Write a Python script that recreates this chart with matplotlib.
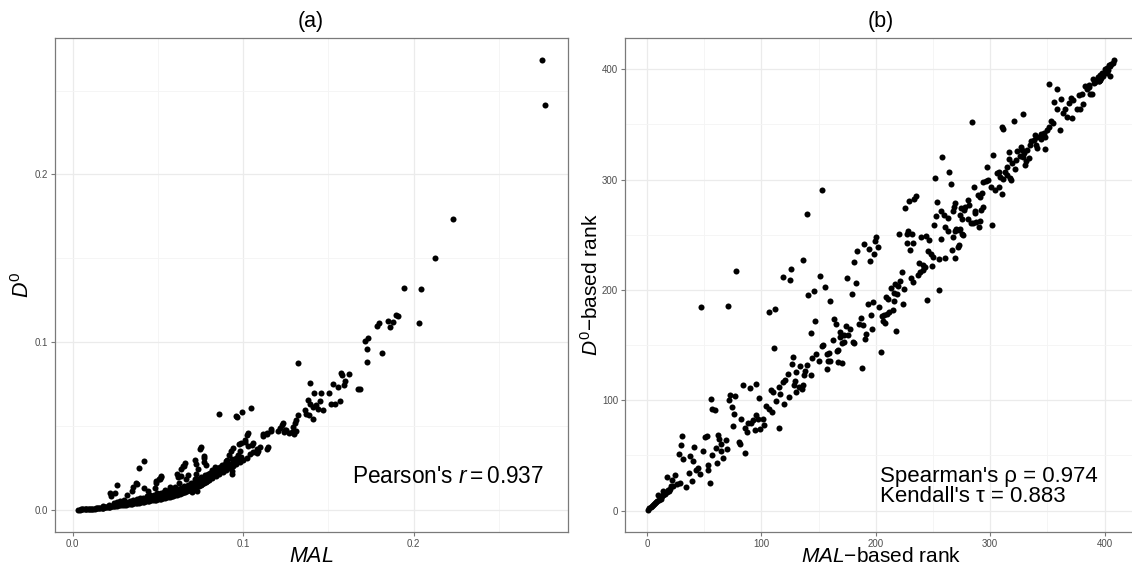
import matplotlib
matplotlib.use("Agg")
import matplotlib.pyplot as plt
import numpy as np

plt.rcParams['font.family'] = ['Liberation Sans', 'DejaVu Sans']
plt.rcParams['mathtext.fontset'] = 'custom'
plt.rcParams['mathtext.rm'] = 'Liberation Sans'
plt.rcParams['mathtext.it'] = 'Liberation Sans:italic'
plt.rcParams['mathtext.bf'] = 'Liberation Sans:bold'

# ---------------- Panel (a): MAL vs D0 ----------------
mal_a = [
    0.003, 0.004, 0.005, 0.0055, 0.006, 0.007, 0.0075, 0.008, 0.009, 0.0095, 0.010, 0.011, 0.0115, 0.012,
    0.013, 0.0135, 0.014, 0.015, 0.0155, 0.016, 0.017, 0.0175, 0.018, 0.019, 0.0195, 0.020, 0.021, 0.0215,
    0.022, 0.023, 0.0235, 0.024, 0.025, 0.0255, 0.026, 0.027, 0.0275, 0.028, 0.029, 0.0295, 0.030,
    0.018, 0.021, 0.024, 0.026, 0.028, 0.030, 0.022, 0.0246, 0.026, 0.0225,
    0.031, 0.032, 0.033, 0.034, 0.035, 0.036, 0.037, 0.038, 0.039, 0.040, 0.041, 0.042, 0.043, 0.044, 0.045,
    0.046, 0.047, 0.048, 0.049, 0.050, 0.051, 0.052, 0.053, 0.054, 0.055, 0.056, 0.057, 0.058, 0.059, 0.060,
    0.0315, 0.0335, 0.0355, 0.0375, 0.0395, 0.0415, 0.0435, 0.0455, 0.0475, 0.0495, 0.0515, 0.0535, 0.0555,
    0.0575, 0.0595,
    0.0325, 0.0345, 0.0365, 0.0385, 0.0405, 0.0425, 0.0445, 0.0465, 0.0485, 0.0505, 0.0525, 0.0545, 0.0565,
    0.0585, 0.0605, 0.0625, 0.0645, 0.0665, 0.0685, 0.0705, 0.0725, 0.0745, 0.0765, 0.0785, 0.0805, 0.0825,
    0.0845, 0.0865, 0.0885, 0.0905, 0.0925, 0.0945, 0.0965, 0.0985,
    0.092, 0.094, 0.096, 0.098, 0.100, 0.102, 0.104, 0.106, 0.108, 0.110,
    0.0318, 0.0347, 0.0356, 0.0373, 0.0377, 0.039, 0.042, 0.0419, 0.0441, 0.0483, 0.0504, 0.0487, 0.0504,
    0.0517, 0.0512, 0.049, 0.052, 0.0542, 0.0568, 0.0602, 0.061, 0.0623, 0.0636, 0.0619, 0.0635, 0.0646,
    0.0654, 0.0661, 0.0665, 0.0678, 0.0699, 0.0729, 0.0716, 0.0725, 0.0733, 0.0725, 0.0717, 0.0744, 0.075,
    0.0771, 0.0768, 0.0772, 0.078, 0.0788, 0.0805, 0.0818, 0.0835, 0.0856, 0.0864, 0.0877, 0.0898, 0.0907,
    0.0919, 0.0928, 0.0936, 0.0936, 0.0935, 0.0958, 0.097, 0.0983, 0.0987, 0.1013, 0.103, 0.103, 0.1055,
    0.1085, 0.0939, 0.0978, 0.101, 0.1049, 0.1084, 0.1142, 0.1144,
    0.061, 0.062, 0.063, 0.064, 0.065, 0.066, 0.067, 0.068, 0.069, 0.070, 0.071, 0.072, 0.073, 0.074, 0.075,
    0.076, 0.077, 0.078, 0.079, 0.080, 0.082, 0.084, 0.086, 0.088, 0.090,
    0.0615, 0.0635, 0.0655, 0.0675, 0.0695, 0.0715, 0.0735, 0.0755, 0.0775, 0.0795, 0.0815, 0.0835, 0.0855,
    0.0875, 0.0895,
    0.086, 0.0958, 0.0966, 0.0992, 0.1047, 0.1025,
    0.1119, 0.114, 0.1165, 0.1119, 0.1138, 0.1166, 0.1205, 0.1228, 0.1240, 0.1251, 0.1216, 0.1233, 0.1246,
    0.1271, 0.1284, 0.1297, 0.1309, 0.1292, 0.1305, 0.1309, 0.1322, 0.1322, 0.1360, 0.1369, 0.1386, 0.1407,
    0.1407, 0.1381, 0.139, 0.1428, 0.1449, 0.1441, 0.147, 0.139, 0.1413, 0.1458, 0.1504, 0.1513, 0.1538,
    0.1568, 0.1525, 0.1555, 0.1574, 0.1581, 0.1597, 0.1593, 0.1621, 0.1674, 0.1686, 0.1712, 0.1733, 0.1725,
    0.1729, 0.1788, 0.1797, 0.1814, 0.1847, 0.186, 0.1877, 0.1898, 0.1909, 0.1945, 0.2032, 0.2042, 0.2123,
    0.2231, 0.2754, 0.2769,
]
d0_a = [
    0.0001, 0.0001, 0.0002, 0.0002, 0.0002, 0.0003, 0.0003, 0.0003, 0.0004, 0.0004, 0.0005, 0.0005, 0.0006, 0.0006,
    0.0007, 0.0008, 0.0008, 0.0009, 0.0010, 0.0010, 0.0011, 0.0013, 0.0012, 0.0014, 0.0016, 0.0015, 0.0017, 0.0019,
    0.0018, 0.0020, 0.0024, 0.0021, 0.0023, 0.0027, 0.0025, 0.0028, 0.0032, 0.0026, 0.0030, 0.0035, 0.0029,
    0.0025, 0.0030, 0.0040, 0.0045, 0.0050, 0.0060, 0.0099, 0.0099, 0.0148, 0.0082,
    0.0030, 0.0032, 0.0033, 0.0035, 0.0036, 0.0038, 0.0040, 0.0041, 0.0043, 0.0044, 0.0046, 0.0048, 0.0049, 0.0051, 0.0053,
    0.0055, 0.0056, 0.0058, 0.0060, 0.0062, 0.0064, 0.0066, 0.0068, 0.0071, 0.0073, 0.0075, 0.0078, 0.0080, 0.0083, 0.0086,
    0.0045, 0.0050, 0.0058, 0.0062, 0.0070, 0.0068, 0.0080, 0.0085, 0.0090, 0.0098, 0.0100, 0.0105, 0.0110,
    0.0120, 0.0115,
    0.0040, 0.0044, 0.0049, 0.0053, 0.0058, 0.0061, 0.0066, 0.0072, 0.0076, 0.0081, 0.0086, 0.0093, 0.0097,
    0.0104, 0.0110, 0.0118, 0.0124, 0.0135, 0.0142, 0.0150, 0.0162, 0.0172, 0.0180, 0.0192, 0.0205, 0.0214,
    0.0228, 0.0238, 0.0252, 0.0262, 0.0275, 0.0290, 0.0300, 0.0315,
    0.0248, 0.0260, 0.0272, 0.0285, 0.0298, 0.0310, 0.0330, 0.0345, 0.0360, 0.0375,
    0.0090, 0.0112, 0.0138, 0.0159, 0.0152, 0.0249, 0.0290, 0.0127, 0.0112, 0.0127, 0.0095, 0.0170, 0.0185,
    0.0198, 0.0185, 0.0160, 0.0200, 0.0116, 0.0133, 0.0138, 0.0211, 0.0159, 0.0202, 0.0193, 0.0241, 0.0261,
    0.0260, 0.0277, 0.0181, 0.0206, 0.0105, 0.0112, 0.0181, 0.0213, 0.0241, 0.0271, 0.0296, 0.0360, 0.0374,
    0.0320, 0.0308, 0.0284, 0.0267, 0.0202, 0.0219, 0.0237, 0.0254, 0.0237, 0.0254, 0.0267, 0.0288, 0.0299,
    0.0327, 0.0348, 0.0305, 0.0228, 0.0211, 0.0310, 0.0327, 0.0353, 0.0400, 0.0413, 0.0460, 0.0378, 0.0396,
    0.0353, 0.0368, 0.0390, 0.0404, 0.0384, 0.0336, 0.0360, 0.0374,
    0.0090, 0.0093, 0.0096, 0.0100, 0.0104, 0.0108, 0.0112, 0.0116, 0.0120, 0.0125, 0.0130, 0.0134, 0.0139, 0.0144, 0.0150,
    0.0155, 0.0160, 0.0166, 0.0171, 0.0177, 0.0188, 0.0199, 0.0211, 0.0224, 0.0236,
    0.0125, 0.0130, 0.0140, 0.0150, 0.0160, 0.0170, 0.0185, 0.0195, 0.0205, 0.0215, 0.0225, 0.0240, 0.0250,
    0.0262, 0.0275,
    0.0572, 0.0561, 0.0551, 0.0585, 0.0604, 0.0443,
    0.0454, 0.0460, 0.0482, 0.0439, 0.0451, 0.0467, 0.0471, 0.0503, 0.0463, 0.0475, 0.0486, 0.0520, 0.0477,
    0.0460, 0.0465, 0.0449, 0.0471, 0.0492, 0.0520, 0.0535, 0.0563, 0.0873, 0.0594, 0.0568, 0.0563, 0.0542,
    0.0615, 0.0654, 0.0632, 0.0622, 0.0649, 0.0600, 0.0594, 0.0753, 0.0697, 0.0697, 0.0697, 0.0628, 0.0628,
    0.0649, 0.0751, 0.0735, 0.0815, 0.0804, 0.0766, 0.0744, 0.0811, 0.0718, 0.0718, 0.1009, 0.1026, 0.0961,
    0.0880, 0.1095, 0.1112, 0.0933, 0.1127, 0.1092, 0.1120, 0.1163, 0.1153, 0.1320, 0.1114, 0.1314, 0.1503,
    0.1735, 0.2680, 0.2415,
]

# ---------------- Panel (b): rank vs rank ----------------
rank_mal = [
    1, 2, 3, 4, 5, 6, 7, 8, 9, 10, 11, 12, 13, 14, 15, 16, 17, 18, 19, 20, 21,
    9.6, 14, 17.5, 21.6, 24.8, 22.7, 25.7, 28.6, 30.9, 29.7, 28, 31.5, 33.8, 36.7, 37.9, 39, 40.8, 40, 42.6,
    44.6, 46, 49, 50.7, 52, 53, 55, 53, 55.7, 57, 59, 57, 60, 61, 62.4, 63, 64.7, 65, 66, 68.8, 70, 71.7,
    72.9, 74, 77, 75.8, 75, 80, 81, 85.7, 84, 89.8, 95.6, 82, 88.6, 87, 91, 92.7, 85.7, 94, 98, 95.6, 96.8,
    101, 98.5, 102, 104, 106.7, 109, 108, 109.7, 110.8, 115, 112.5, 116, 115.5, 118.4, 120.7, 123, 120, 124,
    128, 129.4, 130.6, 133, 135, 136.4, 127, 127.7, 130.6, 133.5, 138, 140, 137, 143.4, 144.6, 148, 149.9,
    152.8, 154, 157, 158, 157,
    152.8, 140, 106.7, 111.7, 119, 125.4, 125, 135.9, 140.8, 145.8, 151, 155.7, 159.8, 142.9, 147, 163.8, 165,
    162.7, 166, 167, 158.6, 160, 167, 170.8, 168.5, 169, 172, 173.8, 175.5, 177, 172, 170, 175, 179, 180.8,
    182.8, 183.7, 190, 194, 195, 198.8, 199, 200, 201.5, 179.6, 181, 185, 187, 189, 187.8, 191, 190.6, 192.7,
    197.7, 196.5, 196, 204.7, 203, 209, 211, 213, 215.7, 217, 219, 218.6, 216.3, 214.6, 211.6, 210, 207,
    205.2, 206.4, 207.6, 217.5, 222.7, 221, 224.5, 224, 231, 232.7, 236.8, 238.5, 241.4, 241, 243, 238, 246,
    248.4, 249.6, 249, 244.3, 254.8, 255.4, 260.6, 257, 246.6, 243.7, 239.6, 232.7, 227, 229.7, 226.8, 220.4,
    228, 231.5, 225.7, 228.6, 233.3, 234.7, 253.8, 256.7, 259.6, 252.5, 250.8, 263, 260.6,
    47.4, 70.5, 77.4,
    284.5, 258.2, 263.8, 265.5, 251.5, 310.2, 311.3, 320.7, 328.9, 351.6, 358.6, 355.7, 361.5, 358, 363.9,
    365.6, 366.8, 371.5, 368.5, 370.9, 372.6, 375.5, 378.4, 380.8, 377.9, 380.2, 383.1, 386, 384.3, 387.2,
    391.9, 394.8, 361, 355.1, 352.8, 349.3, 347.5, 351, 347, 348.1, 344.6, 344, 340.5, 338.8, 338.2, 339.9,
    341.1, 335.9, 334.7, 334.1, 331.8, 329.4, 327.7, 326.5, 330.6, 331.2, 328.9, 325.9, 323, 322.4, 321.3,
    318.9, 316.6, 316, 314.3, 313.1, 317.2, 318.3, 314.8, 307.3, 306.1, 308.4, 311.3, 310.2, 307.3, 302.6,
    297.3, 297.9, 296.2, 293.8, 300.3, 304.3, 301.4, 290.9, 289.2, 292.7, 285.7, 281, 281.6, 278.1, 276.9,
    274.6, 273.4, 275.2, 268.2, 269.3, 267.6, 286.3, 281, 282.8, 285.1, 287.4, 290.9, 289.8, 292.1, 293.8,
    286.8, 274, 272.3, 275.2, 276.3, 269.3, 270.5, 262.9, 267.6, 271.7, 272.9, 266.4, 269.3,
    390, 392, 394, 396, 397, 398, 399, 400, 401, 402, 403, 404, 405, 406, 407, 408, 396, 404.5, 390.6,
    389.4, 386.5, 395.4, 401.8,
]
rank_d0 = [
    1, 2, 3, 4, 5, 6, 7, 8, 9, 10, 12, 11, 13, 14, 16, 15, 17, 19, 18, 20, 22,
    14.4, 17.4, 30.6, 27.6, 32.4, 21.9, 24, 25, 67.3, 59.5, 51, 46.5, 21, 34.5, 49.2, 27, 58, 45, 36.6,
    39, 33, 54, 67, 68, 41, 25, 37, 101, 92, 91, 50, 57, 43, 69, 65, 60.7, 54, 48, 64, 56, 100,
    104.5, 94, 104, 87.7, 77, 62, 60, 52, 114, 111, 115, 83, 79.6, 71.5, 79, 82, 75, 73, 102, 87, 83,
    83, 73.6, 77.5, 95, 92.5, 89.5, 109.6, 107.5, 147, 74.5, 99, 106, 111.7, 117, 118.6, 124, 97, 103,
    114, 117.4, 107.5, 112, 110, 113.5, 132.7, 139, 126, 131.5, 127, 132, 122.5, 122.5, 138, 141.7, 136,
    149.5, 150, 141.7, 135.7, 128.5,
    290.4, 269, 180, 183, 212, 219, 209, 227, 195, 199, 213, 203, 190, 161, 172, 174, 169,
    155, 145, 145.8, 143, 135.5, 135, 133.4, 162, 157, 159.6, 167, 159, 165, 152.7, 152, 211, 196, 225,
    206, 235, 241.6, 237, 226.5, 233, 244, 248, 239, 152.7, 151.5, 169, 175, 168, 129.5, 160, 156, 187.6,
    189, 165, 177.7, 143.7, 184.3, 193.7, 191.6, 202, 197.6, 205, 204, 196.4, 189.8, 182, 180, 178, 177,
    176.2, 171.7, 170, 162.7, 216, 208, 201, 187, 211, 207, 214, 216, 218, 222.6, 221, 224, 235,
    233, 230, 222, 191, 200, 228, 229, 245.8, 245, 249, 248, 243, 243, 236, 251, 251,
    253, 251, 274, 281, 282, 285.5, 280, 272, 268, 267, 259, 265, 257,
    184.5, 185.8, 217.5,
    352, 320.7, 306.9, 295.7, 301.8, 347.9, 345.8, 353, 359.3, 387, 382.3, 370.2, 373.2, 364.2, 360.6,
    364.2, 357, 356.3, 369, 374.4, 372, 363.6, 364.2, 368.4, 376.8, 378, 384.7, 386, 381.7, 378,
    388.9, 389.5, 345, 351, 352.7, 344.9, 327.4, 347.9, 341.9, 338.8, 341.3, 336.4, 338.8, 340.6, 335.8, 331,
    328.6, 334.6, 331.6, 319.5, 326.8, 324.4, 326.8, 329.8, 313.5, 316.5, 320.8, 321.4, 326.2, 317.7, 309.9,
    314.7, 325, 319, 311, 306.9, 301.4, 299.6, 304.5, 306.9, 305.7, 302.7, 300.9, 287, 293, 322,
    311, 299.6, 298.4, 297.8, 293.6, 290.6, 258.6, 284.6, 285.8, 288.2, 293, 281.6, 277.3, 275.5, 272.5,
    274.3, 268.3, 264.7, 274.9, 279.1, 271.9, 271.3, 264, 260.4, 261, 261.6, 262.2, 257.4, 272.5, 275.5,
    269.5, 255.6, 254.4, 250.8, 250.2, 253.2, 255.6, 253.8, 248.4, 239.3, 241.1, 236.3, 229.1,
    391, 389, 393, 395, 392, 397, 394, 400, 398, 401, 399, 404, 403, 405, 406, 408, 390.5, 393.8, 388,
    378, 384, 389.4, 396.7,
]

x_ticks_a = [0.0, 0.1, 0.2]
x_ticklabels_a = ["0.0", "0.1", "0.2"]
y_ticks_a = [0.0, 0.1, 0.2]
y_ticklabels_a = ["0.0", "0.1", "0.2"]
ticks_b = [0, 100, 200, 300, 400]
ticklabels_b = ["0", "100", "200", "300", "400"]

W, H = 1132, 569
fig = plt.figure(figsize=(W / 100, H / 100), dpi=100)
fig.patch.set_facecolor('white')

frame_col = '#7a7a7a'
tick_lab_col = '#4d4d4d'


def style(ax, xminor, yminor):
    ax.set_facecolor('white')
    for s in ax.spines.values():
        s.set_color(frame_col)
        s.set_linewidth(0.9)
    ax.set_xticks(xminor, minor=True)
    ax.set_yticks(yminor, minor=True)
    ax.grid(True, which='major', color='#ebebeb', linewidth=0.9, zorder=0)
    ax.grid(True, which='minor', color='#f4f4f4', linewidth=0.6, zorder=0)
    ax.set_axisbelow(True)
    ax.tick_params(which='major', length=3, width=0.8, color=frame_col,
                   labelsize=7, labelcolor=tick_lab_col, pad=2)
    ax.tick_params(which='minor', length=0)


def expand(vals):
    lo, hi = min(vals), max(vals)
    p = 0.05 * (hi - lo)
    return lo - p, hi + p


top, bot = 38, 532
ax1 = fig.add_axes([54.5 / W, 1 - bot / H, (568 - 54.5) / W, (bot - top) / H])
ax2 = fig.add_axes([625 / W, 1 - bot / H, (1137 - 625) / W, (bot - top) / H])

msize = 19

# panel a
ax1.scatter(mal_a, d0_a, s=msize, c='black', linewidths=0, zorder=3)
ax1.set_xlim(*expand(mal_a))
ax1.set_ylim(*expand(d0_a))
ax1.set_xticks(x_ticks_a)
ax1.set_xticklabels(x_ticklabels_a)
ax1.set_yticks(y_ticks_a)
ax1.set_yticklabels(y_ticklabels_a)
style(ax1, [0.05, 0.15, 0.25], [0.05, 0.15, 0.25])
ax1.text(0.2765, 0.020, r"Pearson's $r = $0.937", ha='right', va='center', fontsize=16.3)

# panel b
ax2.scatter(rank_mal, rank_d0, s=msize, c='black', linewidths=0, zorder=3)
ax2.set_xlim(*expand(rank_mal))
ax2.set_ylim(*expand(rank_d0))
ax2.set_xticks(ticks_b)
ax2.set_xticklabels(ticklabels_b)
ax2.set_yticks(ticks_b)
ax2.set_yticklabels(ticklabels_b)
style(ax2, [50, 150, 250, 350], [50, 150, 250, 350])
ax2.text(204, 22, "Spearman's \u03c1 = 0.974\nKendall's \u03c4 = 0.883", ha='left', va='center',
         fontsize=16, linespacing=0.92)

# titles and axis labels
fig.text(311 / W, 1 - 22 / H, "(a)", ha='center', va='center', fontsize=15.5)
fig.text(881 / W, 1 - 22 / H, "(b)", ha='center', va='center', fontsize=15.5)
fig.text(311 / W, 1 - 557 / H, r"$MAL$", ha='center', va='center', fontsize=15.5)
fig.text(881 / W, 1 - 557 / H, "$MAL$\u2212based rank", ha='center', va='center', fontsize=15)
fig.text(23 / W, 1 - 285 / H, r"$D^{0}$", ha='center', va='center', rotation=90, fontsize=15.5)
fig.text(591 / W, 1 - 285 / H, "$D^{0}$\u2212based rank", ha='center', va='center', rotation=90, fontsize=15)

fig.savefig("out.png", dpi=100, facecolor='white')
